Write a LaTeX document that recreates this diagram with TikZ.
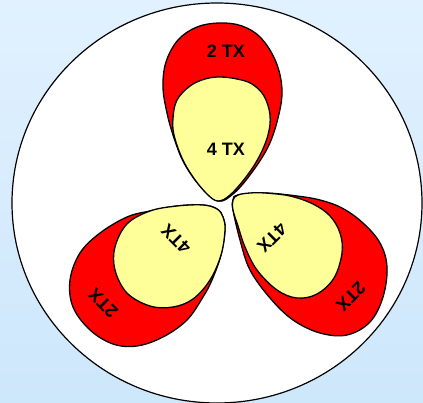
\documentclass[tikz,border=0pt]{standalone}
\usepackage{fontspec}
\setmainfont{Liberation Sans}
\definecolor{bgtop}{HTML}{E1F1FF}
\definecolor{bgbot}{HTML}{CDE7FB}
\definecolor{lobered}{HTML}{FF0000}
\definecolor{lobeyellow}{HTML}{FFFF99}
\begin{document}
\begin{tikzpicture}[x=1pt,y=-1pt,
  lobe/.style={draw=black, line width=1.3pt, line join=round},
  redlobe/.style={lobe, fill=lobered},
  yellobe/.style={lobe, fill=lobeyellow},
  lbl/.style={font=\bfseries\fontsize{18}{18}\selectfont, inner sep=0pt}]
\shade[top color=bgtop, bottom color=bgbot] (0,0) rectangle (423,403);
\useasboundingbox (0,0) rectangle (423,403);
\draw[fill=white, line width=1.2pt] (217,203) ellipse [x radius=205, y radius=200];
% top lobe
\draw[redlobe] plot[smooth cycle, tension=0.6] coordinates {(218,201) (200,186) (184,163) (174,138) (167,113) (163,87) (166,62) (178,40) (197,27) (220,23) (242,26) (261,38) (276,62) (282,90) (278,118) (268,147) (250,175) (233,194)};
\draw[yellobe] plot[smooth cycle, tension=0.6] coordinates {(218,201) (207,194) (193,177) (182,158) (174,135) (173,118) (177,100) (190,86) (205,79) (220,77) (237,79) (252,84) (264,96) (270,115) (268,135) (259,157) (246,177) (230,195)};
% lower right lobe
\draw[redlobe] plot[smooth cycle, tension=0.6] coordinates {(233,210) (233,200) (238,195) (265,193) (297,196) (320,200) (342,208) (363,223) (380,243) (387,267) (383,297) (370,322) (347,335) (320,333) (293,320) (270,298) (250,270) (240,240)};
\draw[yellobe] plot[smooth cycle, tension=0.6] coordinates {(233,210) (233,200) (238,195) (250,193) (265,193) (290,196) (313,204) (330,216) (340,233) (342,253) (334,278) (317,294) (297,298) (277,290) (257,270) (245,247) (238,226)};
% lower left lobe
\draw[redlobe] plot[smooth cycle, tension=0.6] coordinates {(150,211) (127,217) (100,233) (80,253) (70,280) (73,307) (90,330) (113,344) (137,346) (163,337) (187,320) (203,297) (212,280) (221,255) (225,230) (223,217) (217,209) (203,205) (177,206)};
\draw[yellobe] plot[smooth cycle, tension=0.6] coordinates {(223,217) (225,230) (221,255) (210,280) (193,299) (173,307) (150,306) (127,293) (115,270) (115,247) (127,224) (150,211) (177,206) (203,205) (217,209)};
% labels
\node[lbl] (t2top) at (226,51) {2 TX};
\node[lbl] (t4top) at (226,149) {4 TX};
\node[lbl, rotate=225] (t4r) at (272,238) {4TX};
\node[lbl, rotate=225] (t2r) at (351,297) {2TX};
\node[lbl, rotate=135] (t4l) at (176,239) {4TX};
\node[lbl, rotate=135] (t2l) at (103,303) {2TX};
\end{tikzpicture}
\end{document}
